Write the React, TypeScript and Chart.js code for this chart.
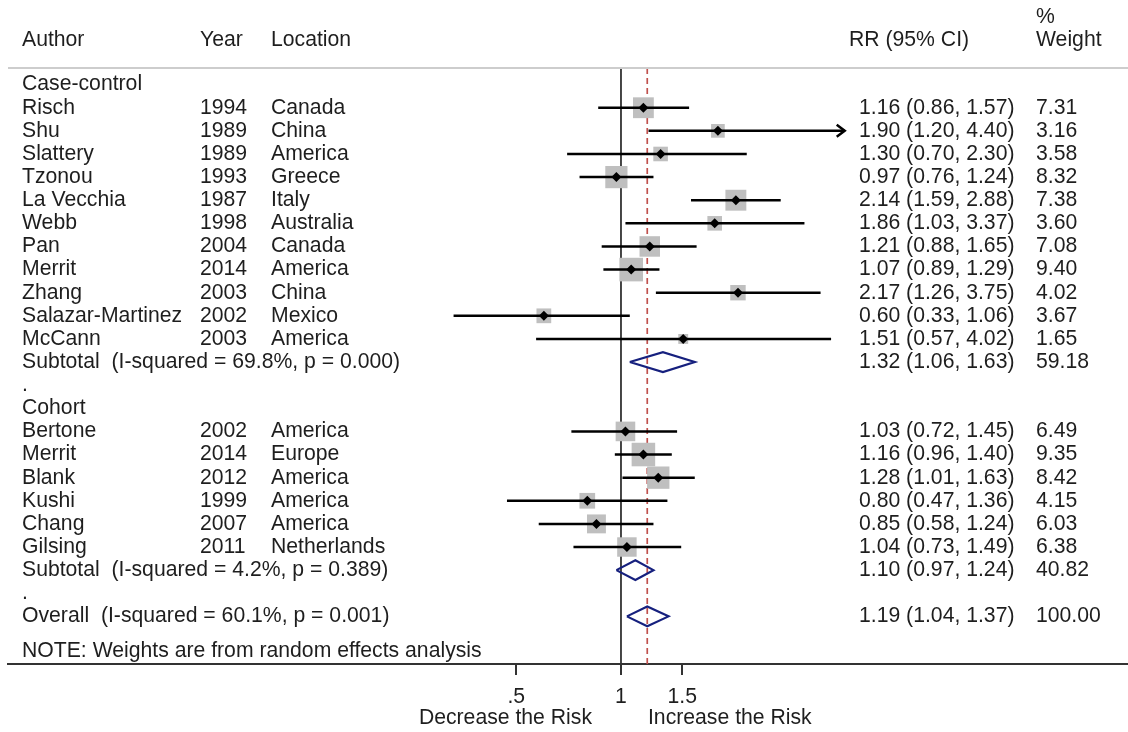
import React, { useEffect, useRef } from "react";
import { Chart, registerables } from "chart.js";

Chart.register(...registerables);

// ---------- data ----------
const groupNames = ["Case-control", "Cohort"];

const caseAuthors = ["Risch", "Shu", "Slattery", "Tzonou", "La Vecchia", "Webb", "Pan", "Merrit", "Zhang", "Salazar-Martinez", "McCann"];
const caseYears = ["1994", "1989", "1989", "1993", "1987", "1998", "2004", "2014", "2003", "2002", "2003"];
const caseLocations = ["Canada", "China", "America", "Greece", "Italy", "Australia", "Canada", "America", "China", "Mexico", "America"];
const caseRR = [1.16, 1.9, 1.3, 0.97, 2.14, 1.86, 1.21, 1.07, 2.17, 0.6, 1.51];
const caseLow = [0.86, 1.2, 0.7, 0.76, 1.59, 1.03, 0.88, 0.89, 1.26, 0.33, 0.57];
const caseHigh = [1.57, 4.4, 2.3, 1.24, 2.88, 3.37, 1.65, 1.29, 3.75, 1.06, 4.02];
const caseWeight = [7.31, 3.16, 3.58, 8.32, 7.38, 3.6, 7.08, 9.4, 4.02, 3.67, 1.65];

const cohortAuthors = ["Bertone", "Merrit", "Blank", "Kushi", "Chang", "Gilsing"];
const cohortYears = ["2002", "2014", "2012", "1999", "2007", "2011"];
const cohortLocations = ["America", "Europe", "America", "America", "America", "Netherlands"];
const cohortRR = [1.03, 1.16, 1.28, 0.8, 0.85, 1.04];
const cohortLow = [0.72, 0.96, 1.01, 0.47, 0.58, 0.73];
const cohortHigh = [1.45, 1.4, 1.63, 1.36, 1.24, 1.49];
const cohortWeight = [6.49, 9.35, 8.42, 4.15, 6.03, 6.38];

const subtotalLabels = ["Subtotal  (I-squared = 69.8%, p = 0.000)", "Subtotal  (I-squared = 4.2%, p = 0.389)"];
const subtotalRR = [1.32, 1.1];
const subtotalLow = [1.06, 0.97];
const subtotalHigh = [1.63, 1.24];
const subtotalWeight = [59.18, 40.82];

const overallLabel = "Overall  (I-squared = 60.1%, p = 0.001)";
const overallRR = 1.19;
const overallLow = 1.04;
const overallHigh = 1.37;
const overallWeight = 100.0;

const headerLabels = ["Author", "Year", "Location", "RR (95% CI)", "Weight"];
const weightHeaderTop = "%";
const noteText = "NOTE: Weights are from random effects analysis";
const favourLeft = "Decrease the Risk";
const favourRight = "Increase the Risk";

const tickValues = [0.5, 1, 1.5];
const tickLabels = [".5", "1", "1.5"];
const arrowLimit = 4.4; // CIs reaching this are drawn with an arrow

// ---------- layout / style ----------
const FONT = '"Liberation Sans", Arial, sans-serif';
const FS = 21.2;
const TEXT = "#1e1e1e";
const X_MIN = 0.01726;
const X_MAX = 28.72;
const Y_MIN = -3.66;
const Y_MAX = 25.06;
const RULE_ROW = -0.72;
const HEAD_ROW = -1.93;
const HEAD_TOP_ROW = -2.92;
const NOTE_ROW = 24.5;
const COL_AUTHOR = 22;
const COL_YEAR = 200;
const COL_LOC = 271;
const COL_RR_HEAD = 849;
const COL_RR = 859;
const COL_W = 1036;

type Row = {
  kind: "group" | "study" | "subtotal" | "spacer" | "overall";
  y: number;
  label: string;
  year?: string;
  loc?: string;
  rr?: number;
  lo?: number;
  hi?: number;
  w?: number;
};

function buildRows(): Row[] {
  const groups = [
    { a: caseAuthors, yr: caseYears, l: caseLocations, rr: caseRR, lo: caseLow, hi: caseHigh, w: caseWeight },
    { a: cohortAuthors, yr: cohortYears, l: cohortLocations, rr: cohortRR, lo: cohortLow, hi: cohortHigh, w: cohortWeight },
  ];
  const rows: Row[] = [];
  let r = 0;
  groups.forEach((g, gi) => {
    rows.push({ kind: "group", y: r++, label: groupNames[gi] });
    g.a.forEach((name, i) => {
      rows.push({ kind: "study", y: r++, label: name, year: g.yr[i], loc: g.l[i], rr: g.rr[i], lo: g.lo[i], hi: g.hi[i], w: g.w[i] });
    });
    rows.push({ kind: "subtotal", y: r++, label: subtotalLabels[gi], rr: subtotalRR[gi], lo: subtotalLow[gi], hi: subtotalHigh[gi], w: subtotalWeight[gi] });
    rows.push({ kind: "spacer", y: r++, label: "." });
  });
  rows.push({ kind: "overall", y: r++, label: overallLabel, rr: overallRR, lo: overallLow, hi: overallHigh, w: overallWeight });
  return rows;
}

const fmtCI = (rr: number, lo: number, hi: number) => `${rr.toFixed(2)} (${lo.toFixed(2)}, ${hi.toFixed(2)})`;

export default function App() {
  const ref = useRef<HTMLCanvasElement>(null);

  useEffect(() => {
    const canvas = ref.current;
    if (!canvas) return;
    const rows = buildRows();
    const studies = rows.filter((r) => r.kind === "study");
    const pooled = rows.filter((r) => r.kind === "subtotal" || r.kind === "overall");

    const datasets: any[] = [];

    // reference line at 1 and dashed line at overall estimate
    datasets.push({
      data: [{ x: 1, y: RULE_ROW }, { x: 1, y: Y_MAX }],
      showLine: true, borderColor: "#333333", borderWidth: 1.8, pointRadius: 0, order: 4,
    });
    datasets.push({
      data: [{ x: overallRR, y: RULE_ROW }, { x: overallRR, y: Y_MAX }],
      showLine: true, borderColor: "#c0504d", borderWidth: 1.7, borderDash: [6, 4], pointRadius: 0, order: 4,
    });

    // weight squares
    datasets.push({
      data: studies.map((s) => ({ x: s.rr, y: s.y, w: s.w })),
      pointStyle: "rect",
      pointRadius: (ctx: any) => (7.7 * Math.sqrt(ctx.raw.w)) / Math.SQRT2,
      backgroundColor: "#bfbfbf",
      borderWidth: 0,
      pointBorderWidth: 0,
      order: 3,
    });

    // CI lines
    studies.forEach((s) => {
      datasets.push({
        data: [{ x: s.lo, y: s.y }, { x: s.hi, y: s.y }],
        showLine: true, borderColor: "#000000", borderWidth: 2.5, pointRadius: 0, order: 1,
      });
    });

    // diamonds
    pooled.forEach((p) => {
      const h = 0.43;
      datasets.push({
        data: [
          { x: p.lo, y: p.y },
          { x: p.rr, y: p.y - h },
          { x: p.hi, y: p.y },
          { x: p.rr, y: p.y + h },
          { x: p.lo, y: p.y },
        ],
        showLine: true, borderColor: "#16207e", borderWidth: 2.2, pointRadius: 0, order: 1,
        borderJoinStyle: "miter",
      });
    });

    // point markers
    datasets.push({
      data: studies.map((s) => ({ x: s.rr, y: s.y })),
      pointStyle: "rectRot",
      pointRadius: 5,
      backgroundColor: "#000000",
      borderColor: "#000000",
      pointBorderWidth: 0,
      order: 0,
    });

    const textPlugin = {
      id: "forestText",
      afterDraw(chart: any) {
        const { ctx } = chart;
        const xs = chart.scales.x;
        const ys = chart.scales.y;
        const py = (v: number) => ys.getPixelForValue(v);
        ctx.save();
        ctx.font = `${FS}px ${FONT}`;
        ctx.fillStyle = TEXT;
        ctx.textBaseline = "middle";
        ctx.textAlign = "left";

        // headers
        ctx.fillText(headerLabels[0], COL_AUTHOR, py(HEAD_ROW));
        ctx.fillText(headerLabels[1], COL_YEAR, py(HEAD_ROW));
        ctx.fillText(headerLabels[2], COL_LOC, py(HEAD_ROW));
        ctx.fillText(headerLabels[3], COL_RR_HEAD, py(HEAD_ROW));
        ctx.fillText(headerLabels[4], COL_W, py(HEAD_ROW));
        ctx.fillText(weightHeaderTop, COL_W, py(HEAD_TOP_ROW));

        // rule under header
        ctx.strokeStyle = "#cdcdcd";
        ctx.lineWidth = 2;
        ctx.beginPath();
        ctx.moveTo(chart.chartArea.left, py(RULE_ROW));
        ctx.lineTo(chart.chartArea.right, py(RULE_ROW));
        ctx.stroke();

        rows.forEach((r) => {
          const y = py(r.y);
          ctx.fillText(r.label, COL_AUTHOR, y);
          if (r.kind === "study") {
            ctx.fillText(r.year, COL_YEAR, y);
            ctx.fillText(r.loc, COL_LOC, y);
          }
          if (r.rr !== undefined) {
            ctx.fillText(fmtCI(r.rr, r.lo!, r.hi!), COL_RR, y);
            ctx.fillText(r.w!.toFixed(2), COL_W, y);
          }
          if (r.kind === "study" && r.hi! >= arrowLimit) {
            const ax = xs.getPixelForValue(r.hi);
            ctx.strokeStyle = "#000000";
            ctx.lineWidth = 2.5;
            ctx.beginPath();
            ctx.moveTo(ax - 8, y - 6);
            ctx.lineTo(ax, y);
            ctx.lineTo(ax - 8, y + 6);
            ctx.stroke();
          }
        });

        ctx.fillText(noteText, COL_AUTHOR, py(NOTE_ROW));

        // favour labels under the axis
        const x1 = xs.getPixelForValue(1);
        const fy = xs.bottom - 14;
        ctx.textAlign = "right";
        ctx.fillText(favourLeft, x1 - 29, fy);
        ctx.textAlign = "left";
        ctx.fillText(favourRight, x1 + 27, fy);
        ctx.restore();
      },
    };

    const chart = new Chart(canvas, {
      type: "scatter",
      data: { datasets },
      options: {
        responsive: false,
        animation: false,
        layout: { autoPadding: false, padding: { left: 8, right: 0, top: 0, bottom: 0 } },
        plugins: { legend: { display: false }, tooltip: { enabled: false } },
        scales: {
          x: {
            type: "logarithmic",
            position: "bottom",
            min: X_MIN,
            max: X_MAX,
            bounds: "data",
            afterBuildTicks: (s: any) => {
              s.ticks = tickValues.map((v) => ({ value: v }));
            },
            afterFit: (s: any) => {
              s.height = 68;
            },
            ticks: {
              autoSkip: false,
              maxRotation: 0,
              padding: 9,
              color: TEXT,
              font: { family: FONT, size: FS },
              callback: (_v: any, i: number) => tickLabels[i],
            },
            grid: { drawOnChartArea: false, drawTicks: true, tickLength: 11, color: "#333333", lineWidth: 2 },
            border: { display: true, color: "#333333", width: 2 },
          },
          y: { type: "linear", display: false, min: Y_MIN, max: Y_MAX, reverse: true },
        },
      },
      plugins: [textPlugin],
    } as any);
    return () => chart.destroy();
  }, []);

  return (
    <div style={{ position: "fixed", left: 0, top: 0, width: 1128, height: 732, background: "#ffffff" }}>
      <canvas ref={ref} width={1128} height={732} style={{ display: "block" }} />
    </div>
  );
}
